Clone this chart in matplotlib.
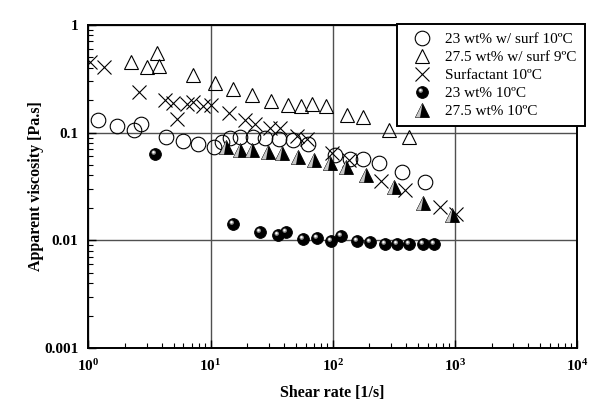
import numpy as np
import matplotlib
matplotlib.use("Agg")
import matplotlib.pyplot as plt
from matplotlib.path import Path
from matplotlib.ticker import LogLocator, FuncFormatter, NullFormatter
from matplotlib.legend_handler import HandlerTuple

# 23 wt% w/ surf 10ºC (open circles)
shear_23s = [1.20, 1.71, 2.36, 2.69, 4.31, 5.94, 7.88, 10.7, 12.4, 14.4, 17.4,
             22.2, 27.9, 36.3, 47.3, 62.8, 104, 139, 177, 239, 370, 570]
visc_23s = [0.131, 0.116, 0.106, 0.121, 0.0914, 0.0839, 0.0787, 0.0738, 0.0822,
            0.0895, 0.0914, 0.0914, 0.0895, 0.0876, 0.0858, 0.0787, 0.0622,
            0.0571, 0.0571, 0.0525, 0.0433, 0.035]

# 27.5 wt% w/ surf 9ºC (open triangles)
shear_275s = [2.23, 3.01, 3.64, 3.78, 7.18, 10.9, 15.3, 21.8, 31.2, 43.0, 55.0,
              67.7, 88.1, 131, 177, 289, 422]
visc_275s = [0.454, 0.408, 0.550, 0.417, 0.344, 0.290, 0.255, 0.224, 0.197,
             0.181, 0.177, 0.185, 0.177, 0.146, 0.140, 0.106, 0.0914]

# Surfactant 10ºC (crosses)
shear_surf = [1.03, 1.34, 2.59, 4.23, 4.92, 5.31, 6.41, 7.18, 8.66, 10.1, 14.2,
              19.1, 23.1, 30.6, 37.0, 51.0, 61.6, 98.7, 136, 249, 391, 757, 1023]
visc_surf = [0.454, 0.408, 0.239, 0.201, 0.189, 0.134, 0.185, 0.193, 0.177,
             0.181, 0.153, 0.131, 0.121, 0.111, 0.111, 0.0934, 0.0876, 0.065,
             0.056, 0.0357, 0.0295, 0.0205, 0.0177]

# 23 wt% 10ºC (shaded spheres)
shear_23 = [3.51, 15.3, 25.4, 35.6, 41.5, 57.1, 74.3, 96.8, 117, 158, 202, 268,
            336, 422, 549, 676]
visc_23 = [0.0636, 0.01426, 0.0120, 0.01127, 0.0120, 0.01035, 0.0106, 0.0099,
           0.0110, 0.0099, 0.0097, 0.0093, 0.0093, 0.0093, 0.0093, 0.0093]

# 27.5 wt% 10ºC (filled triangles)
shear_275 = [13.4, 17.4, 21.8, 29.5, 38.4, 52.0, 70.3, 95.0, 129, 187, 318, 549, 948]
visc_275 = [0.0738, 0.0692, 0.0692, 0.0664, 0.065, 0.0597, 0.056, 0.0525,
            0.0482, 0.0406, 0.0314, 0.0223, 0.0173]

labels = ["23 wt% w/ surf 10ºC", "27.5 wt% w/ surf 9ºC", "Surfactant 10ºC",
          "23 wt% 10ºC", "27.5 wt% 10ºC"]


def spot_marker(cx, cy, r, n=28):
    # small filled circle placed off-centre inside the marker box
    t = np.linspace(0, 2 * np.pi, n)
    pts = np.column_stack([cx + r * np.cos(t), cy + r * np.sin(t)])
    verts = np.vstack([[-1, -1], [1, 1], pts])
    codes = [Path.MOVETO, Path.MOVETO, Path.MOVETO] + [Path.LINETO] * (n - 2) + [Path.CLOSEPOLY]
    return Path(verts, codes)


sliver = Path([(0, 1), (-1, -1), (-0.35, -1), (0, 1)],
              [Path.MOVETO, Path.LINETO, Path.LINETO, Path.CLOSEPOLY])

plt.rcParams['font.family'] = 'serif'
plt.rcParams['font.serif'] = ['Liberation Serif', 'DejaVu Serif']
plt.rcParams['mathtext.fontset'] = 'custom'
plt.rcParams['mathtext.rm'] = 'Liberation Serif'
plt.rcParams['mathtext.bf'] = 'Liberation Serif:bold'

fig = plt.figure(figsize=(6.01, 4.13), dpi=100)
ax = fig.add_axes([0.147, 0.157, 0.813, 0.783])

l_circ, = ax.plot(shear_23s, visc_23s, ls="none", marker="o", ms=10.5,
                  mfc="none", mec="black", mew=0.8)
l_tri, = ax.plot(shear_275s, visc_275s, ls="none", marker="^", ms=10.5,
                 mfc="none", mec="black", mew=0.8)
l_x, = ax.plot(shear_surf, visc_surf, ls="none", marker="x", ms=10,
               color="black", mew=0.8)

s_base, = ax.plot(shear_23, visc_23, ls="none", marker="o", ms=8.5,
                  mfc="black", mec="black", mew=0.6)
s_hl1, = ax.plot(shear_23, visc_23, ls="none", marker=spot_marker(-0.3, 0.32, 0.38),
                 ms=8.5, mfc="#8c8c8c", mew=0)
s_hl2, = ax.plot(shear_23, visc_23, ls="none", marker=spot_marker(-0.34, 0.38, 0.2),
                 ms=8.5, mfc="white", mew=0)

t_base, = ax.plot(shear_275, visc_275, ls="none", marker="^", ms=10,
                  mfc="black", mec="black", mew=0.6)
t_hl, = ax.plot(shear_275, visc_275, ls="none", marker=sliver, ms=10,
                mfc="#c8c8c8", mew=0)

ax.set_xscale("log")
ax.set_yscale("log")
ax.set_xlim(1, 1e4)
ax.set_ylim(1e-3, 1)

ax.xaxis.set_major_locator(LogLocator(base=10, numticks=10))
ax.xaxis.set_minor_locator(LogLocator(base=10, subs=np.arange(2, 10), numticks=20))
ax.yaxis.set_major_locator(LogLocator(base=10, numticks=10))
ax.yaxis.set_minor_locator(LogLocator(base=10, subs=np.arange(2, 10), numticks=20))
ax.xaxis.set_major_formatter(FuncFormatter(lambda v, p: r"$\mathbf{10^{%d}}$" % round(np.log10(v))))
ax.yaxis.set_major_formatter(FuncFormatter(lambda v, p: "%g" % v))
ax.xaxis.set_minor_formatter(NullFormatter())
ax.yaxis.set_minor_formatter(NullFormatter())

ax.tick_params(which="both", direction="in", top=False, right=False, color="black")
ax.tick_params(which="major", length=6, width=1.0, labelsize=11)
ax.tick_params(which="minor", length=3.5, width=0.8)
ax.tick_params(axis="y", pad=7)
ax.tick_params(axis="x", pad=7)
for lab in ax.get_yticklabels():
    lab.set_fontweight("bold")

ax.grid(True, which="major", color="#505050", lw=1.0)
for sp in ax.spines.values():
    sp.set_linewidth(1.4)
    sp.set_color("black")

ax.set_xlabel("Shear rate [1/s]", fontsize=11.5, fontweight="bold", labelpad=8)
ax.set_ylabel("Apparent viscosity [Pa.s]", fontsize=11.5, fontweight="bold", labelpad=0)

leg = fig.legend([l_circ, l_tri, l_x, (s_base, s_hl1, s_hl2), (t_base, t_hl)], labels,
                 handler_map={tuple: HandlerTuple(ndivide=1)},
                 loc="upper left", bbox_to_anchor=(0.660, 0.942),
                 bbox_transform=fig.transFigure, borderaxespad=0,
                 fontsize=11, frameon=True, fancybox=False, framealpha=1,
                 edgecolor="black", labelspacing=0.28, handlelength=2.2,
                 handletextpad=0.4, borderpad=0.55)
leg.get_frame().set_linewidth(1.4)

fig.savefig("out.png", dpi=100)
